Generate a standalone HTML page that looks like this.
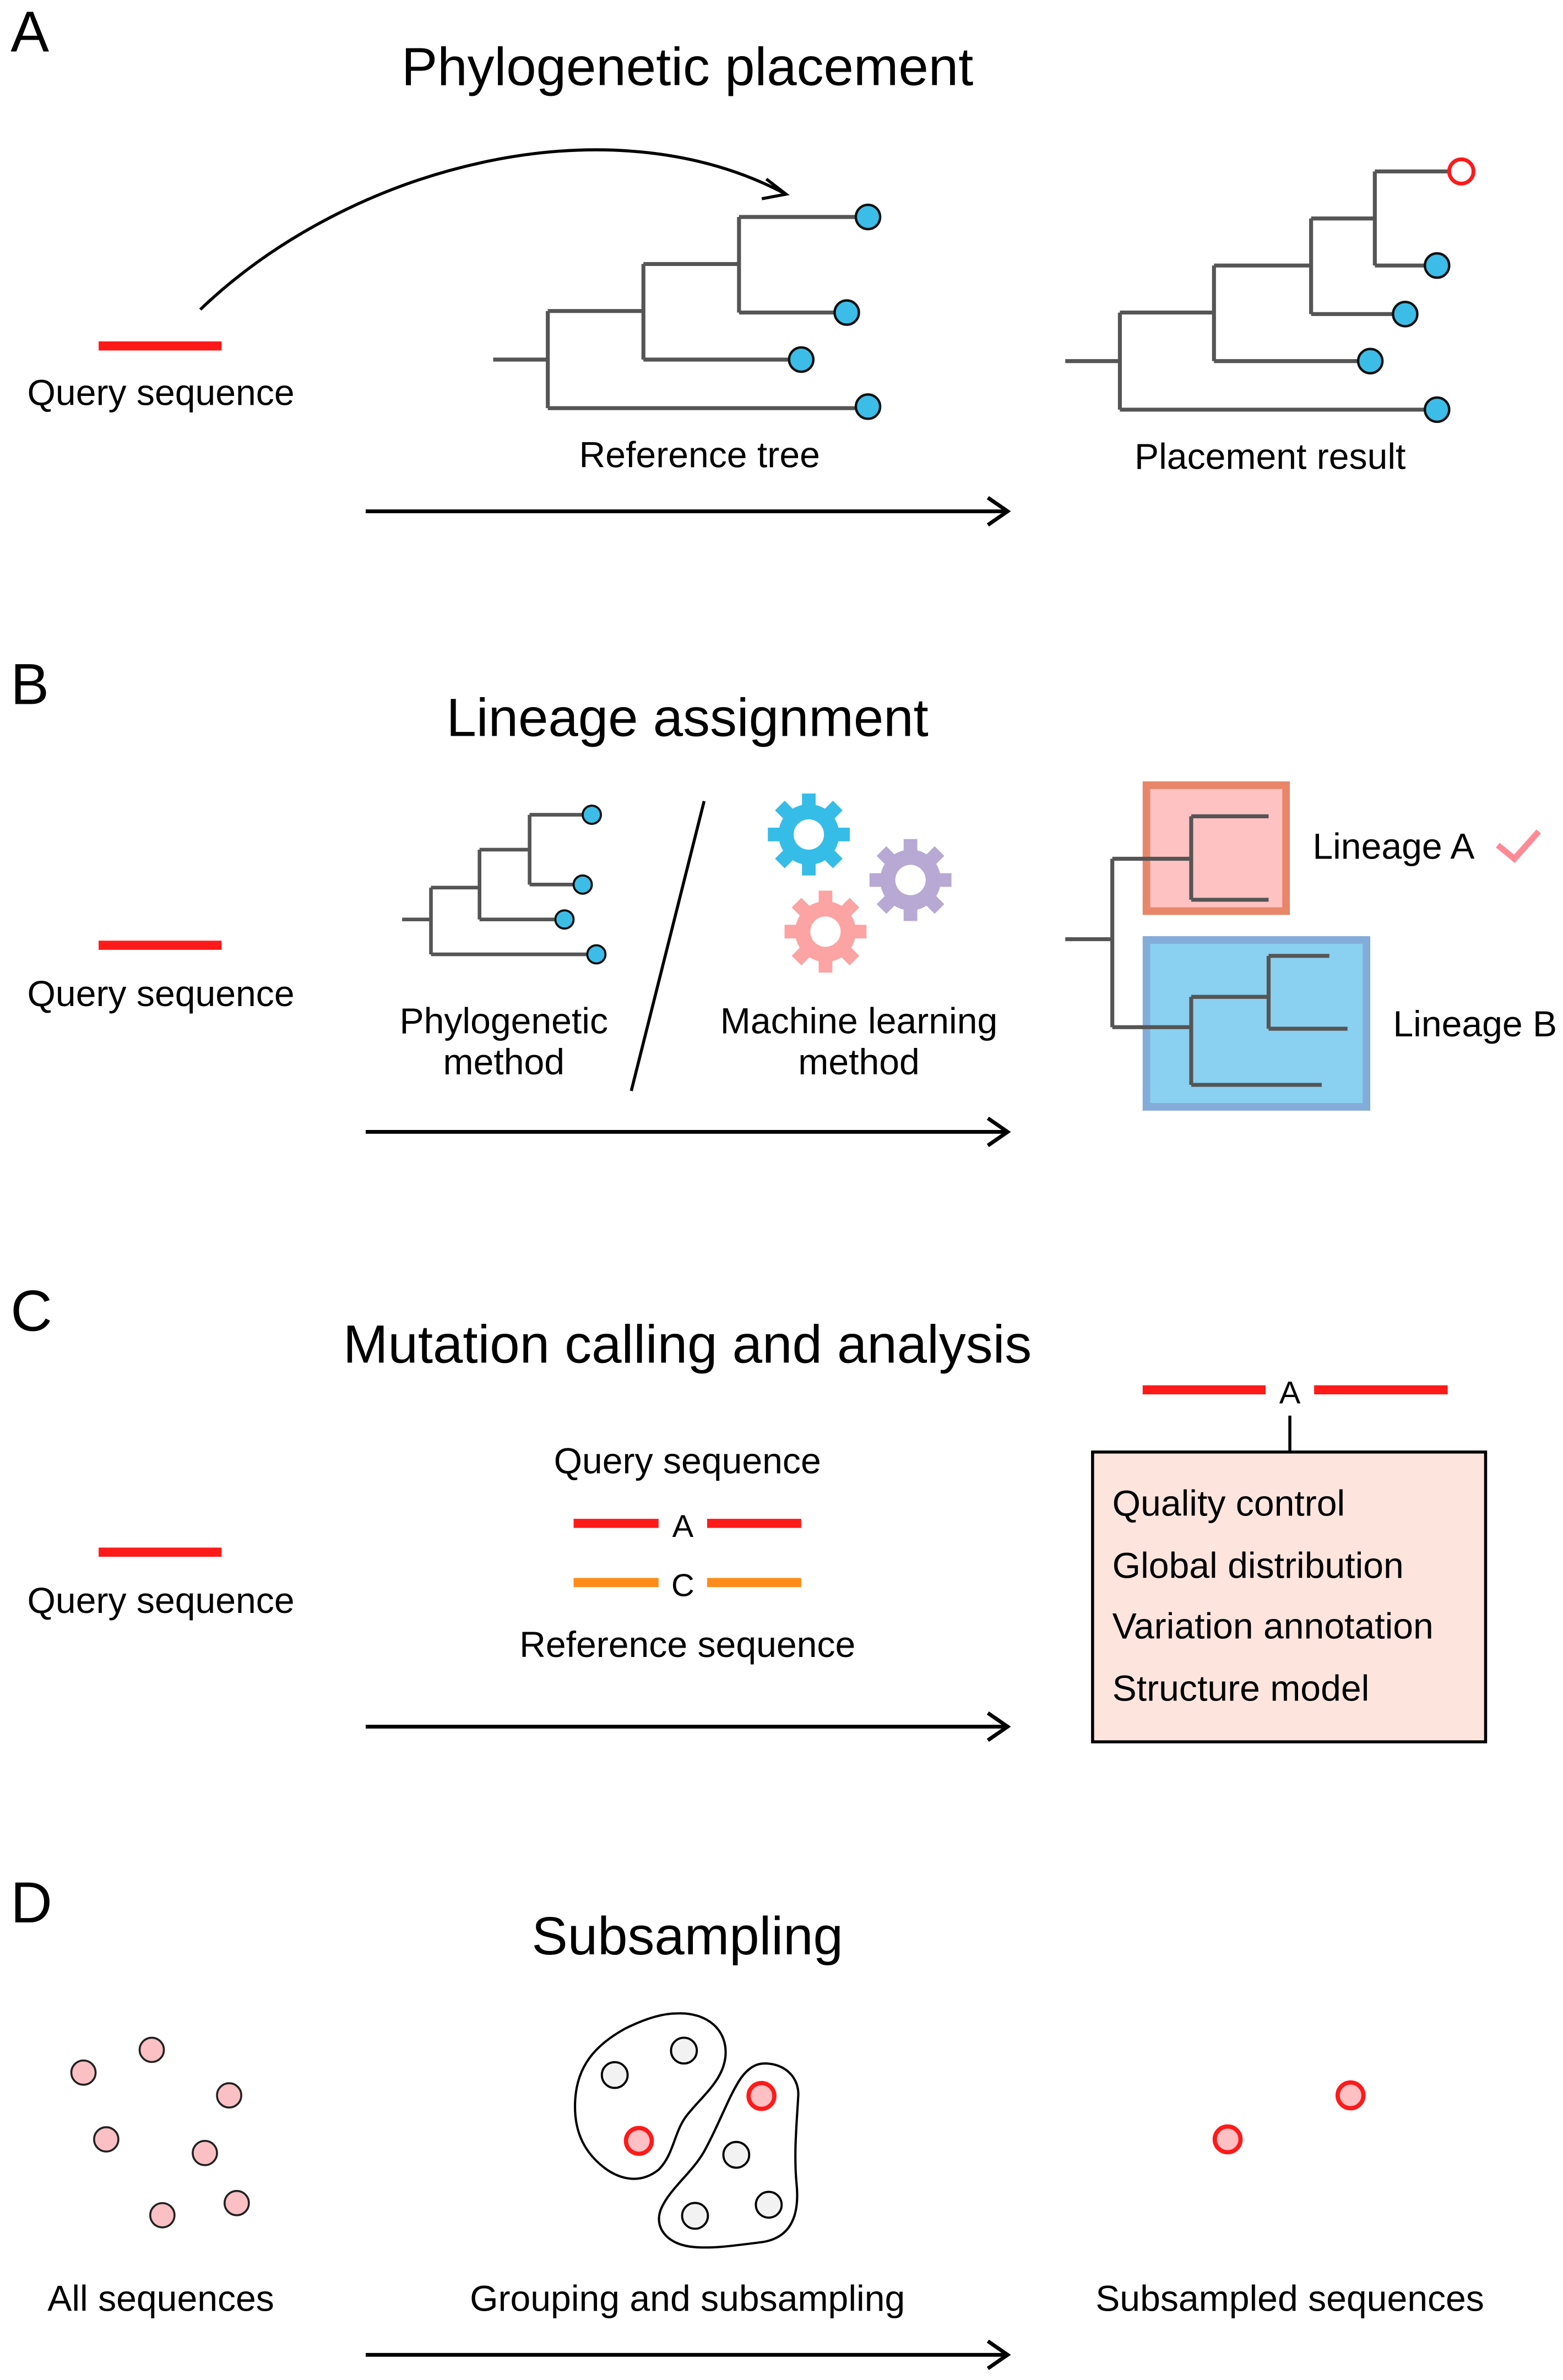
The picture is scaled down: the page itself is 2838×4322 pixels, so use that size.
<!DOCTYPE html>
<html><head><meta charset="utf-8"><style>
html,body{margin:0;padding:0;background:#fff}
svg{display:block}
text{font-family:"Liberation Sans",Arial,sans-serif;fill:#000}
</style></head><body>
<svg width="2838" height="4322" viewBox="0 0 1030 1568.6" xmlns="http://www.w3.org/2000/svg">
<defs>
<g id="gear">
<circle r="20"/>
<g>
<rect x="-4.5" y="-27" width="9" height="10"/>
<rect x="-4.5" y="-27" width="9" height="10" transform="rotate(45)"/>
<rect x="-4.5" y="-27" width="9" height="10" transform="rotate(90)"/>
<rect x="-4.5" y="-27" width="9" height="10" transform="rotate(135)"/>
<rect x="-4.5" y="-27" width="9" height="10" transform="rotate(180)"/>
<rect x="-4.5" y="-27" width="9" height="10" transform="rotate(225)"/>
<rect x="-4.5" y="-27" width="9" height="10" transform="rotate(270)"/>
<rect x="-4.5" y="-27" width="9" height="10" transform="rotate(315)"/>
</g>
<circle r="10" fill="#fff"/>
</g>
</defs>

<!-- ============ A ============ -->
<text x="7" y="34" font-size="38">A</text>
<text x="453" y="56" font-size="35.5" text-anchor="middle">Phylogenetic placement</text>
<path d="M132,204 C230,110 400,65 518,128" fill="none" stroke="#000" stroke-width="2"/>
<path d="M505,118 L518,128 L502,131" fill="none" stroke="#000" stroke-width="2"/>
<line x1="65" y1="228" x2="146" y2="228" stroke="#ff1a1a" stroke-width="6"/>
<text x="106" y="267" font-size="24" text-anchor="middle">Query sequence</text>

<g stroke="#555" stroke-width="2.6" fill="none">
<path d="M325,237H361 M361,205V269 M361,205H424 M361,269H572 M424,174V237 M424,174H487 M424,237H528 M487,143V206 M487,143H572 M487,206H558"/>
<path d="M702,238H738 M738,206V270 M738,206H800 M738,270H948 M800,175V238 M800,175H864 M800,238H903 M864,144V207 M864,144H906 M864,207H926 M906,113V175 M906,113H963 M906,175H947"/>
</g>
<g fill="#3bbde8" stroke="#111" stroke-width="1.6">
<circle cx="572" cy="143" r="8"/><circle cx="558" cy="206" r="8"/><circle cx="528" cy="237" r="8"/><circle cx="572" cy="268" r="8"/>
<circle cx="947" cy="175" r="8"/><circle cx="926" cy="207" r="8"/><circle cx="903" cy="238" r="8"/><circle cx="947" cy="270" r="8"/>
</g>
<circle cx="963" cy="113" r="8" fill="#fff" stroke="#ff1a1a" stroke-width="2.5"/>
<text x="461" y="308" font-size="24" text-anchor="middle">Reference tree</text>
<text x="837" y="309" font-size="24" text-anchor="middle">Placement result</text>
<line x1="241" y1="337" x2="664" y2="337" stroke="#000" stroke-width="2.5"/>
<path d="M651,328 L664,337 L651,346" fill="none" stroke="#000" stroke-width="2.5"/>

<!-- ============ B ============ -->
<text x="7" y="464" font-size="38">B</text>
<text x="453" y="485" font-size="35.5" text-anchor="middle">Lineage assignment</text>
<line x1="65" y1="623" x2="146" y2="623" stroke="#ff1a1a" stroke-width="6"/>
<text x="106" y="663" font-size="24" text-anchor="middle">Query sequence</text>
<path d="M265,606H284 M284,585V629 M284,585H316 M284,629H393 M316,560V606 M316,560H349 M316,606H372 M349,537V583 M349,537H390 M349,583H384" stroke="#555" stroke-width="2.4" fill="none"/>
<g fill="#3bbde8" stroke="#111" stroke-width="1.4">
<circle cx="390" cy="537" r="6"/><circle cx="384" cy="583" r="6"/><circle cx="372" cy="606" r="6"/><circle cx="393" cy="629" r="6"/>
</g>
<text x="332" y="681" font-size="24" text-anchor="middle">Phylogenetic</text>
<text x="332" y="708" font-size="24" text-anchor="middle">method</text>
<line x1="464" y1="528" x2="416" y2="719" stroke="#000" stroke-width="2"/>
<use href="#gear" x="533" y="550" fill="#35bde8"/>
<use href="#gear" x="600" y="580" fill="#b7a8d4"/>
<use href="#gear" x="544" y="614" fill="#fca3a3"/>
<text x="566" y="681" font-size="24" text-anchor="middle">Machine learning</text>
<text x="566" y="708" font-size="24" text-anchor="middle">method</text>
<line x1="241" y1="746" x2="664" y2="746" stroke="#000" stroke-width="2.5"/>
<path d="M651,737 L664,746 L651,755" fill="none" stroke="#000" stroke-width="2.5"/>

<rect x="755.5" y="517.5" width="92" height="83" fill="#ffc2c2" stroke="#e8866a" stroke-width="5"/>
<rect x="755.5" y="619.5" width="145" height="110" fill="#8ad0f0" stroke="#84acd9" stroke-width="5"/>
<path d="M702,619H733 M733,566V677 M733,566H785 M785,538V593 M785,538H836 M785,593H836 M733,677H785 M785,657V715 M785,657H836 M785,715H871 M836,630V678 M836,630H876 M836,678H888" stroke="#555" stroke-width="2.6" fill="none"/>
<text x="865" y="566" font-size="24">Lineage A</text>
<path d="M987,557 L998,566 L1014,548" fill="none" stroke="#ff8a96" stroke-width="4"/>
<text x="918" y="683" font-size="24">Lineage B</text>

<!-- ============ C ============ -->
<text x="7" y="877" font-size="38">C</text>
<text x="453" y="898" font-size="35.5" text-anchor="middle">Mutation calling and analysis</text>
<line x1="65" y1="1023" x2="146" y2="1023" stroke="#ff1a1a" stroke-width="6"/>
<text x="106" y="1063" font-size="24" text-anchor="middle">Query sequence</text>
<text x="453" y="971" font-size="24" text-anchor="middle">Query sequence</text>
<line x1="378" y1="1004" x2="434" y2="1004" stroke="#ff1a1a" stroke-width="6"/>
<line x1="466" y1="1004" x2="528" y2="1004" stroke="#ff1a1a" stroke-width="6"/>
<text x="450" y="1013" font-size="21" text-anchor="middle">A</text>
<line x1="378" y1="1043" x2="434" y2="1043" stroke="#ff8c1a" stroke-width="6"/>
<line x1="466" y1="1043" x2="528" y2="1043" stroke="#ff8c1a" stroke-width="6"/>
<text x="450" y="1052" font-size="21" text-anchor="middle">C</text>
<text x="453" y="1092" font-size="24" text-anchor="middle">Reference sequence</text>
<line x1="241" y1="1138" x2="664" y2="1138" stroke="#000" stroke-width="2.5"/>
<path d="M651,1129 L664,1138 L651,1147" fill="none" stroke="#000" stroke-width="2.5"/>

<line x1="753" y1="916" x2="834" y2="916" stroke="#ff1a1a" stroke-width="6"/>
<line x1="866" y1="916" x2="954" y2="916" stroke="#ff1a1a" stroke-width="6"/>
<text x="850" y="925" font-size="21" text-anchor="middle">A</text>
<line x1="850" y1="933" x2="850" y2="957" stroke="#000" stroke-width="2"/>
<rect x="720" y="957" width="259" height="191" fill="#fde5de" stroke="#000" stroke-width="2"/>
<text x="733" y="999" font-size="24">Quality control</text>
<text x="733" y="1040" font-size="24">Global distribution</text>
<text x="733" y="1080" font-size="24">Variation annotation</text>
<text x="733" y="1121" font-size="24">Structure model</text>

<!-- ============ D ============ -->
<text x="7" y="1267" font-size="38">D</text>
<text x="453" y="1288" font-size="35.5" text-anchor="middle">Subsampling</text>
<g fill="#fbc0c4" stroke="#222" stroke-width="1.3">
<circle cx="55" cy="1366" r="8"/><circle cx="100" cy="1351" r="8"/><circle cx="151" cy="1381" r="8"/>
<circle cx="70" cy="1410" r="8"/><circle cx="135" cy="1419" r="8"/><circle cx="107" cy="1460" r="8"/><circle cx="156" cy="1452" r="8"/>
</g>
<text x="106" y="1523" font-size="24" text-anchor="middle">All sequences</text>

<path d="M446,1327 C466,1326 480,1338 478,1356 C476,1372 462,1382 452,1395 C444,1406 444,1420 434,1430 C424,1438 412,1438 400,1430 C386,1420 378,1406 379,1385 C380,1362 392,1348 412,1337 C424,1331 436,1327 446,1327 Z" fill="none" stroke="#000" stroke-width="1.5"/>
<path d="M504,1360 C518,1360 527,1370 526,1382 C525,1400 523,1420 525,1440 C527,1462 520,1476 500,1478 C484,1480 470,1482 458,1481 C440,1480 430,1468 436,1455 C442,1442 456,1432 464,1418 C474,1400 480,1382 488,1370 C493,1363 498,1360 504,1360 Z" fill="none" stroke="#000" stroke-width="1.5"/>
<g fill="#f2f2f2" stroke="#000" stroke-width="1.4">
<circle cx="450.7" cy="1351.5" r="8.5"/><circle cx="405.1" cy="1367.6" r="8.5"/>
<circle cx="485.2" cy="1420.2" r="8.5"/><circle cx="458" cy="1460.4" r="8.5"/><circle cx="506.6" cy="1453.1" r="8.5"/>
</g>
<g fill="#ffc0c4" stroke="#ff1a1a" stroke-width="2.8">
<circle cx="421" cy="1411" r="8.5"/><circle cx="501.8" cy="1381.4" r="8.5"/>
<circle cx="809" cy="1410" r="8.5"/><circle cx="890" cy="1381" r="8.5"/>
</g>
<text x="453" y="1523" font-size="24" text-anchor="middle">Grouping and subsampling</text>
<text x="850" y="1523" font-size="24" text-anchor="middle">Subsampled sequences</text>
<line x1="241" y1="1552" x2="664" y2="1552" stroke="#000" stroke-width="2.5"/>
<path d="M651,1543 L664,1552 L651,1561" fill="none" stroke="#000" stroke-width="2.5"/>
</svg>
</body></html>
